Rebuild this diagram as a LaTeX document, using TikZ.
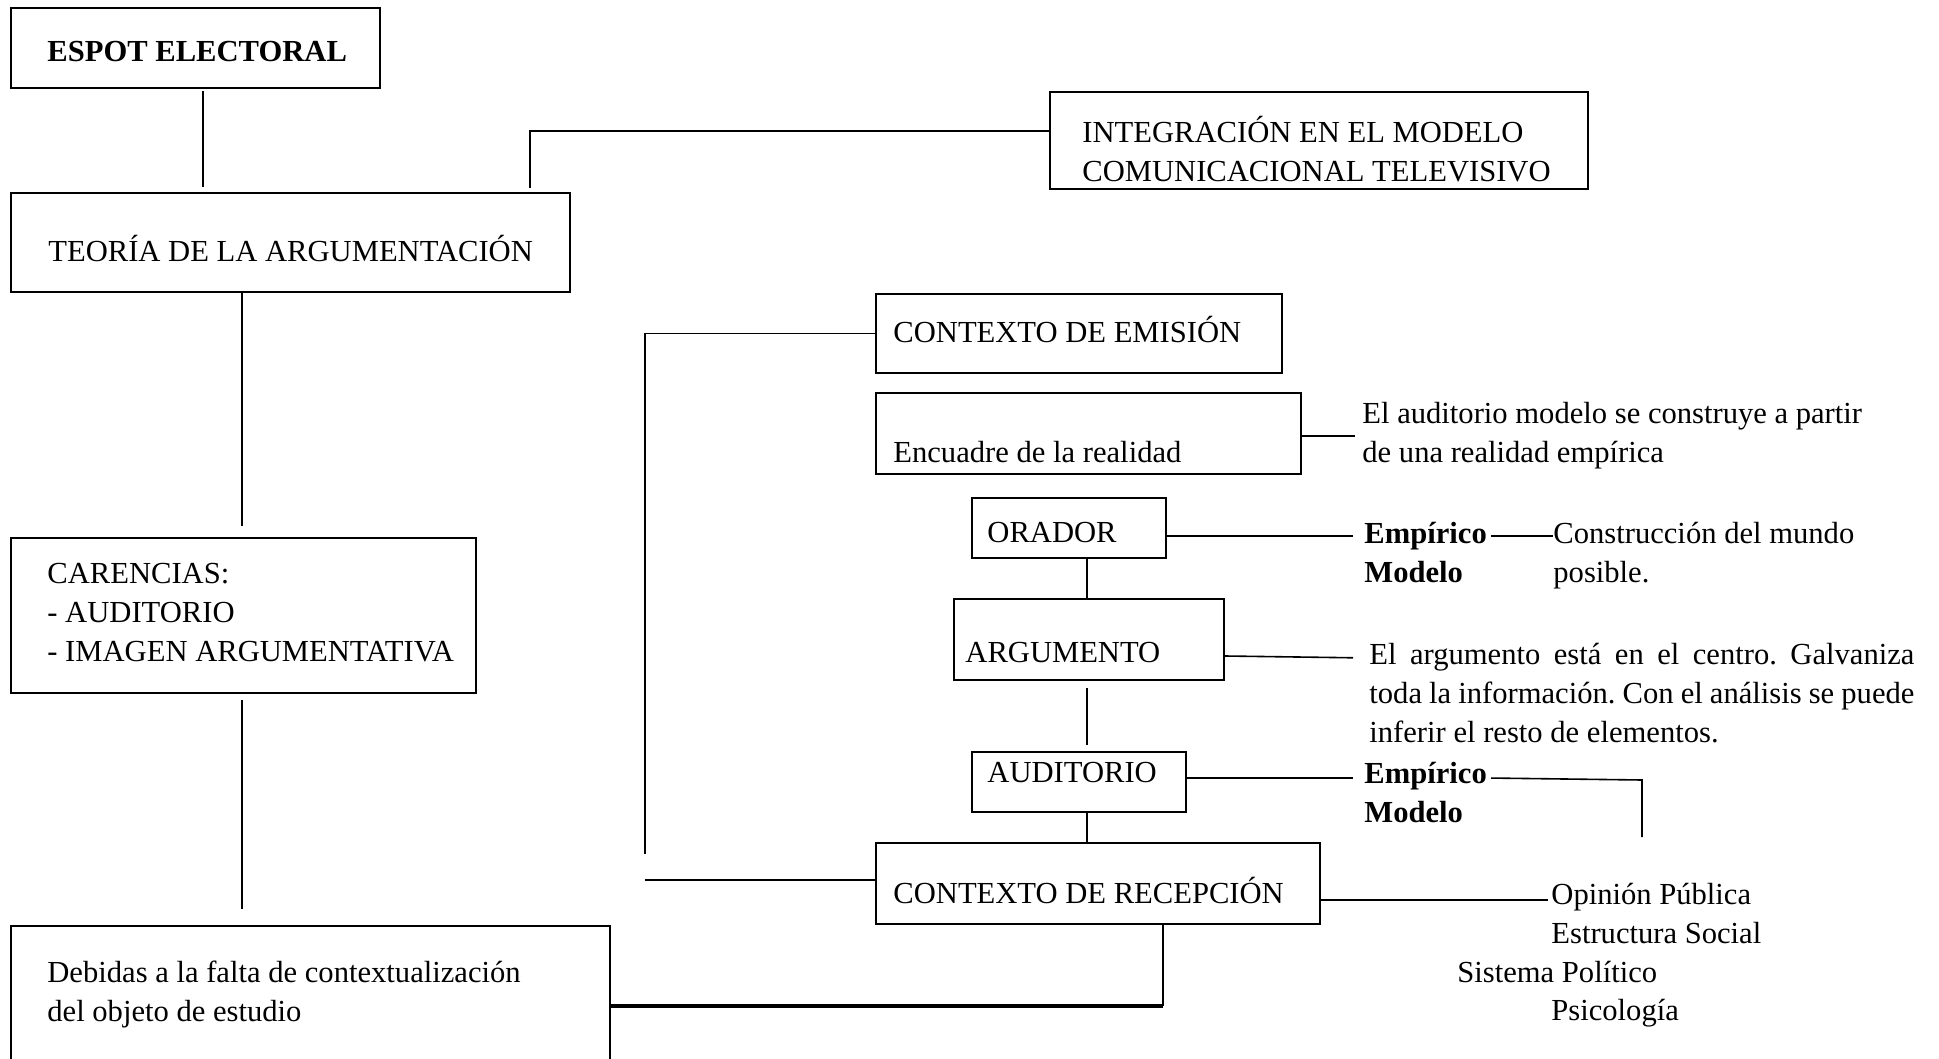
\documentclass[tikz,border=0pt]{standalone}
\usepackage{fontspec}
\setmainfont{Liberation Serif}

\begin{document}
\frenchspacing
\begin{tikzpicture}[x=0.5pt, y=-0.5pt,
		caja/.style={draw, line width=1pt, inner sep=0pt, anchor=north west},
		texto/.style={anchor=base west, inner sep=0pt, align=left, font=\fontsize{15.3}{19.5}\selectfont},
		linea/.style={line width=0.8pt},
		gruesa/.style={line width=1.6pt}]
			%%%%% START %%%%%
			\useasboundingbox (0,0) rectangle (1939,1059);
			
			\node[caja, minimum width=184.5pt, minimum height=40pt] (espot) at (10,7) {};
			\node[texto] (espottxt) at (47,62) {\textbf{ESPOT ELECTORAL}};
			
			\node[caja, minimum width=279.5pt, minimum height=49.5pt] (teoria) at (10,192) {};
			\node[texto] (teoriatxt) at (48,262) {TEORÍA DE LA ARGUMENTACIÓN};
			
			\node[caja, minimum width=269pt, minimum height=48.5pt] (integ) at (1049,91) {};
			\node[texto] (integtxt) at (1082,182) {INTEGRACIÓN EN EL MODELO\\COMUNICACIONAL TELEVISIVO};
			
			\node[caja, minimum width=232.5pt, minimum height=77.5pt] (carencias) at (10,537) {};
			\node[texto] (carenciastxt) at (47,661) {CARENCIAS:\\- AUDITORIO\\- IMAGEN ARGUMENTATIVA};
			
			\node[caja, minimum width=299.5pt, minimum height=69.5pt] (debidas) at (10,925) {};
			\node[texto] (debidastxt) at (47,1021) {Debidas a la falta de contextualización\\del objeto de estudio};
			
			\node[caja, minimum width=203pt, minimum height=39.5pt] (emision) at (875,293) {};
			\node[texto] (emisiontxt) at (893,343) {CONTEXTO DE EMISIÓN};
			
			\node[caja, minimum width=212.5pt, minimum height=40.5pt] (encuadre) at (875,392) {};
			\node[texto] (encuadretxt) at (893,462) {Encuadre de la realidad};
			\node[texto] (realidad) at (1362,462) {El auditorio modelo se construye a partir\\de una realidad empírica};
			
			\node[caja, minimum width=97pt, minimum height=30pt] (orador) at (971,497) {};
			\node[texto] (oradortxt) at (987,542) {ORADOR};
			\node[texto] (emp1) at (1364,582) {\textbf{Empírico}\\\textbf{Modelo}};
			\node[texto] (mundo) at (1553,582) {Construcción del mundo\\posible.};
			
			\node[caja, minimum width=135pt, minimum height=40.5pt] (argumento) at (953,598) {};
			\node[texto] (argumentotxt) at (965,662) {ARGUMENTO};
			\node[texto] (parrafo) at (1369,742) {\makebox[272.5pt][s]{El argumento está en el centro. Galvaniza}\\\makebox[272.5pt][s]{toda la información. Con el análisis se puede}\\inferir el resto de elementos.};
			
			\node[caja, minimum width=107pt, minimum height=30pt] (auditorio) at (971,751) {};
			\node[texto] (auditoriotxt) at (987,782) {AUDITORIO};
			\node[texto] (emp2) at (1364,822) {\textbf{Empírico}\\\textbf{Modelo}};
			
			\node[caja, minimum width=222pt, minimum height=40.5pt] (recepcion) at (875,842) {};
			\node[texto] (recepciontxt) at (893,903) {CONTEXTO DE RECEPCIÓN};
			\node[texto] (opinion) at (1551,943) {Opinión Pública\\Estructura Social};
			\node[texto] (sistema) at (1457,982) {Sistema Político};
			\node[texto] (psico) at (1551,1020) {Psicología};
			
			\coordinate (corchete) at (645,854);
			\coordinate (emp2fin) at (1642,837);
			\coordinate (codo) at (1163,1006);
			
			\draw[linea, shorten <=1pt, shorten >=2.5pt] (203,0 |- espot.south) -- (203,0 |- teoria.north);
			\draw[linea, shorten <=2pt] (530,0 |- teoria.north) |- (integ.west |- 0,131);
			\draw[linea, shorten >=5.5pt] (242,0 |- teoria.south) -- (242,0 |- carencias.north);
			\draw[linea, shorten <=3pt, shorten >=8pt] (242,0 |- carencias.south) -- (242,0 |- debidas.north);
			
			\draw[linea] (emision.west) -- (corchete |- emision.west) -- (corchete);
			\draw[linea] (recepcion.west |- 0,880) -- (corchete |- 0,880);
			
			\draw[linea, shorten >=3.5pt] (encuadre.east |- 0,436) -- (realidad.west |- 0,436);
			
			\draw[linea, shorten >=5.5pt] (orador.east |- 0,536) -- (emp1.west |- 0,536);
			\draw[linea, shorten <=2pt] (emp1.east |- 0,536) -- (mundo.west |- 0,536);
			\draw[linea] (1087,0 |- orador.south) -- (1087,0 |- argumento.north);
			
			\draw[linea, shorten >=8pt] (argumento.east |- 0,656) -- (parrafo.west |- 0,658);
			\draw[linea, shorten <=3.5pt, shorten >=3pt] (1087,0 |- argumento.south) -- (1087,0 |- auditorio.north);
			
			\draw[linea, shorten >=5.5pt] (auditorio.east |- 0,778) -- (emp2.west |- 0,778);
			\draw[linea, shorten <=2pt] (emp2.east |- 0,778) -- (emp2fin |- 0,780) -- (emp2fin);
			\draw[linea] (1087,0 |- auditorio.south) -- (1087,0 |- recepcion.north);
			
			\draw[linea, shorten >=1.5pt] (recepcion.east |- 0,900) -- (opinion.west |- 0,900);
			\draw[linea] (codo |- recepcion.south) -- (codo);
			\draw[gruesa] (codo) -- (debidas.east |- codo);
			
			%%%%% END %%%%%
\end{tikzpicture}
\end{document}
